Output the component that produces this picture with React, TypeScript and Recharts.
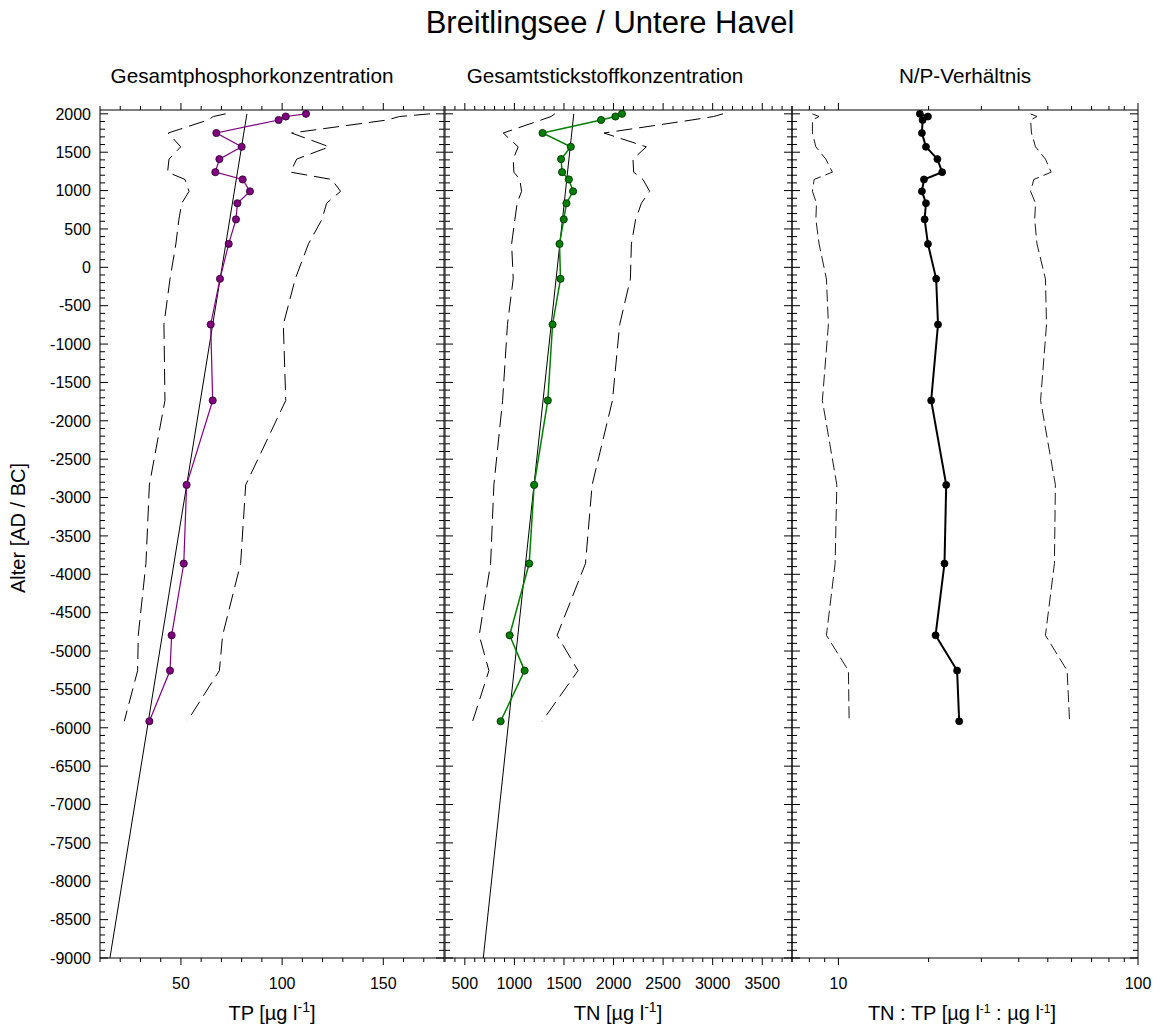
import { ScatterChart, Scatter, XAxis, YAxis } from "recharts";

const font = '"Liberation Sans", Arial, Helvetica, sans-serif';

// sample ages (AD / BC), shared by all three profiles
const ages = [2000, 1965, 1920, 1750, 1570, 1410, 1240, 1145, 990, 835, 625, 305, -150, -745, -1735, -2835, -3860, -4795, -5255, -5915];

// TP [µg/l]
const tp = [111.8, 101.8, 98.3, 67.5, 80.0, 69.0, 67.0, 80.5, 84.1, 77.9, 77.2, 73.6, 69.3, 64.7, 65.7, 52.8, 51.4, 45.4, 44.6, 34.4];
const tpLow = [72.1, 66.0, 63.4, 43.7, 49.9, 44.1, 43.4, 52.0, 54.0, 50.4, 49.0, 47.5, 44.6, 41.6, 42.1, 34.4, 32.7, 28.9, 28.6, 22.0];
const tpHigh = [173.1, 158.0, 152.0, 104.7, 123.3, 107.2, 104.2, 124.5, 128.9, 122.0, 119.7, 113.0, 106.5, 100.6, 101.8, 82.0, 79.5, 70.6, 69.0, 53.1];
const tpTrendAges = [2000, -9000];
const tpTrend = [82.6, 14.9];

// TN [µg/l]
const tn = [2085, 2019, 1874, 1284, 1569, 1471, 1481, 1549, 1592, 1525, 1498, 1455, 1465, 1385, 1337, 1199, 1149, 952, 1103, 861];
const tnLow = [1408, 1370, 1270, 887, 1038, 988, 995, 1055, 1072, 1028, 1005, 972, 988, 930, 881, 793, 760, 645, 743, 579];
const tnHigh = [3103, 3010, 2790, 1904, 2331, 2196, 2203, 2297, 2364, 2281, 2223, 2180, 2170, 2062, 1989, 1784, 1717, 1431, 1642, 1280];
const tnTrendAges = [2000, -9000];
const tnTrend = [1599, 686];

// TN : TP
const np = [18.7, 19.9, 19.1, 19.0, 19.6, 21.4, 22.2, 19.3, 19.0, 19.6, 19.4, 19.9, 21.2, 21.5, 20.4, 22.9, 22.6, 21.1, 24.9, 25.3];
const npLow = [8.19, 8.62, 8.19, 8.19, 8.41, 9.08, 9.55, 8.3, 8.19, 8.45, 8.41, 8.62, 9.12, 9.26, 8.84, 9.88, 9.75, 9.12, 10.8, 10.86];
const npHigh = [43.8, 46.0, 43.8, 44.1, 45.5, 49.1, 51.3, 44.9, 43.8, 45.5, 45.2, 46.0, 49.1, 49.5, 47.3, 53.0, 52.6, 49.1, 58.0, 59.1];

// axes
const yDomain = [-9000, 2050];
const yLabels = [2000, 1500, 1000, 500, 0, -500, -1000, -1500, -2000, -2500, -3000, -3500, -4000, -4500, -5000, -5500, -6000, -6500, -7000, -7500, -8000, -8500, -9000];
const yTicks = Array.from({ length: 111 }, (_, i) => -9000 + i * 100);

const tpDomain = [10, 180];
const tpLabels = [50, 100, 150];
const tpTicks = Array.from({ length: 18 }, (_, i) => 10 + i * 10);

const tnDomain = [300, 3800];
const tnLabels = [500, 1000, 1500, 2000, 2500, 3000, 3500];
const tnTicks = Array.from({ length: 36 }, (_, i) => 300 + i * 100);

const npDomain = [7, 100];
const npLabels = [10, 100];
const npTicks = [7, 8, 9, 10, 20, 30, 40, 50, 60, 70, 80, 90, 100];

const pts = (xs: number[], ys: number[]) => xs.map((x, i) => ({ x, y: ys[i] }));

const yTick = (side: "left" | "right", labels: boolean) => (p: any) => {
  const v = p.payload.value;
  const major = yLabels.includes(v);
  const len = major ? 8 : 5;
  const dir = side === "left" ? 1 : -1;
  return (
    <g>
      <line x1={p.x} y1={p.y} x2={p.x + dir * len} y2={p.y} stroke="#000" strokeWidth={1} />
      {labels && major && (
        <text x={p.x - 9} y={p.y} dy="0.36em" textAnchor="end" fontSize={16} fontFamily={font} fill="#000">
          {v}
        </text>
      )}
    </g>
  );
};

const xTick = (side: "top" | "bottom", labels: number[], major: number[]) => (p: any) => {
  const v = p.payload.value;
  const isMajor = major.includes(v);
  const len = isMajor ? 7 : 4;
  const dir = side === "bottom" ? 1 : -1;
  return (
    <g>
      <line x1={p.x} y1={p.y} x2={p.x} y2={p.y + dir * len} stroke="#000" strokeWidth={1} />
      {side === "bottom" && labels.includes(v) && (
        <text x={p.x} y={p.y + 31} textAnchor="middle" fontSize={16} fontFamily={font} fill="#000">
          {v}
        </text>
      )}
    </g>
  );
};

const noDot = () => <g />;
const dot = (fill: string, stroke: string, r: number) => (p: any) => (
  <circle cx={p.cx} cy={p.cy} r={r} fill={fill} stroke={stroke} strokeWidth={0.8} />
);

type PanelProps = {
  left: number;
  width: number;
  plotLeft: number;
  plotRight: number;
  yAxisWidth: number;
  xDomain: number[];
  xTicks: number[];
  xLabels: number[];
  xMajor: number[];
  log?: boolean;
  yLabelsOn: boolean;
  children: any;
};

const PLOT_TOP = 110;
const PLOT_BOTTOM = 958;
const H = 1032;

const Panel = ({ left, width, plotLeft, plotRight, yAxisWidth, xDomain, xTicks, xLabels, xMajor, log, yLabelsOn, children }: PanelProps) => {
  const margin = {
    top: PLOT_TOP - 1,
    bottom: H - PLOT_BOTTOM - 1,
    left: plotLeft - left - yAxisWidth,
    right: left + width - plotRight - 1,
  };
  const common = {
    type: "number" as const,
    allowDataOverflow: true,
    interval: 0 as const,
    tickSize: 0,
    tickMargin: 0,
    tickLine: false,
    axisLine: { stroke: "#000" },
  };
  return (
    <div style={{ position: "absolute", left, top: 0 }}>
      <ScatterChart width={width} height={H} margin={margin}>
        <XAxis
          {...common}
          xAxisId="b"
          orientation="bottom"
          dataKey="x"
          scale={log ? "log" : "linear"}
          domain={xDomain}
          ticks={xTicks}
          height={1}
          tick={xTick("bottom", xLabels, xMajor)}
        />
        <XAxis
          {...common}
          xAxisId="t"
          orientation="top"
          dataKey="x"
          scale={log ? "log" : "linear"}
          domain={xDomain}
          ticks={xTicks}
          height={1}
          tick={xTick("top", xLabels, xMajor)}
        />
        <YAxis
          {...common}
          yAxisId="l"
          orientation="left"
          dataKey="y"
          domain={yDomain}
          ticks={yTicks}
          width={yAxisWidth}
          tick={yTick("left", yLabelsOn)}
        />
        <YAxis
          {...common}
          yAxisId="r"
          orientation="right"
          dataKey="y"
          domain={yDomain}
          ticks={yTicks}
          width={1}
          tick={yTick("right", false)}
        />
        {children}
      </ScatterChart>
    </div>
  );
};

const series = (key: string, data: any[], line: any, shape: any) => (
  <Scatter
    key={key}
    xAxisId="b"
    yAxisId="l"
    data={data}
    line={line}
    lineType="joint"
    shape={shape}
    isAnimationActive={false}
    legendType="none"
  />
);

const dashed = { stroke: "#000", strokeWidth: 1, strokeDasharray: "16 7" };
const dashedThin = { stroke: "#000", strokeWidth: 0.9, strokeDasharray: "12 5" };
const trend = { stroke: "#000", strokeWidth: 1 };

const Txt = ({ cx, cy, size, children }: { cx: number; cy: number; size: number; children: any }) => (
  <div
    style={{
      position: "absolute",
      left: cx - 300,
      width: 600,
      top: cy - size * 0.49,
      textAlign: "center",
      fontSize: size,
      lineHeight: 1,
      fontFamily: font,
      color: "#000",
      whiteSpace: "nowrap",
    }}
  >
    {children}
  </div>
);

const Sup = ({ s = 0.7, children }: { s?: number; children: any }) => (
  <sup style={{ fontSize: `${s}em`, verticalAlign: "0.55em", lineHeight: 0 }}>{children}</sup>
);

export default function App() {
  return (
    <div style={{ position: "absolute", left: 0, top: 0, width: 1160, height: 1032, background: "#fff", overflow: "hidden" }}>
      <Txt cx={610} cy={22} size={31}>Breitlingsee / Untere Havel</Txt>
      <Txt cx={252} cy={76} size={20.7}>Gesamtphosphorkonzentration</Txt>
      <Txt cx={605} cy={76} size={20.7}>Gesamtstickstoffkonzentration</Txt>
      <Txt cx={965} cy={76} size={20.7}>N/P-Verhältnis</Txt>

      <Panel
        left={0}
        width={450}
        plotLeft={100}
        plotRight={444}
        yAxisWidth={60}
        xDomain={tpDomain}
        xTicks={tpTicks}
        xLabels={tpLabels}
        xMajor={tpLabels}
        yLabelsOn
      >
        {series("tpLow", pts(tpLow, ages), dashed, noDot)}
        {series("tpHigh", pts(tpHigh, ages), dashed, noDot)}
        {series("tpTrend", pts(tpTrend, tpTrendAges), trend, noDot)}
        {series("tp", pts(tp, ages), { stroke: "#800080", strokeWidth: 1.2 }, dot("#800080", "#2b002b", 3.6))}
      </Panel>

      <Panel
        left={440}
        width={360}
        plotLeft={445}
        plotRight={792}
        yAxisWidth={1}
        xDomain={tnDomain}
        xTicks={tnTicks}
        xLabels={tnLabels}
        xMajor={tnLabels}
        yLabelsOn={false}
      >
        {series("tnLow", pts(tnLow, ages), dashed, noDot)}
        {series("tnHigh", pts(tnHigh, ages), dashed, noDot)}
        {series("tnTrend", pts(tnTrend, tnTrendAges), trend, noDot)}
        {series("tn", pts(tn, ages), { stroke: "#008000", strokeWidth: 1.5 }, dot("#008000", "#002200", 3.6))}
      </Panel>

      <Panel
        left={786}
        width={374}
        plotLeft={792}
        plotRight={1138}
        yAxisWidth={1}
        xDomain={npDomain}
        xTicks={npTicks}
        xLabels={npLabels}
        xMajor={npLabels}
        log
        yLabelsOn={false}
      >
        {series("npLow", pts(npLow, ages), dashedThin, noDot)}
        {series("npHigh", pts(npHigh, ages), dashedThin, noDot)}
        {series("np", pts(np, ages), { stroke: "#000", strokeWidth: 2 }, dot("#000", "#000", 3.5))}
      </Panel>

      <Txt cx={272} cy={1013} size={20}>
        TP [µg l<Sup>-1</Sup>]
      </Txt>
      <Txt cx={618} cy={1013} size={20}>
        TN [µg l<Sup>-1</Sup>]
      </Txt>
      <Txt cx={962} cy={1013} size={20}>
        TN : TP [µg l<Sup s={0.6}>-1</Sup> : µg l<Sup s={0.6}>-1</Sup>]
      </Txt>

      <div
        style={{
          position: "absolute",
          left: 18 - 150,
          top: 528 - 10,
          width: 300,
          height: 20,
          lineHeight: "20px",
          textAlign: "center",
          fontSize: 20,
          fontFamily: font,
          transform: "rotate(-90deg)",
          whiteSpace: "nowrap",
        }}
      >
        Alter [AD / BC]
      </div>
    </div>
  );
}
